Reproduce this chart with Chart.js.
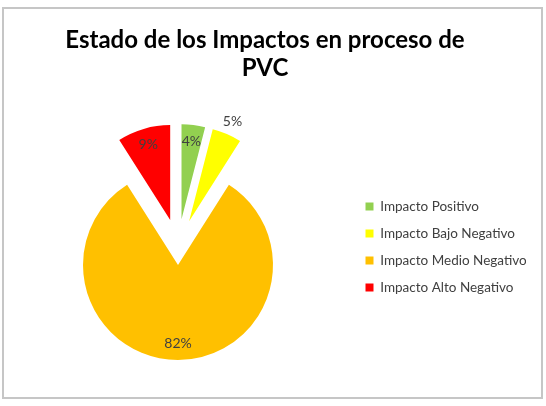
<!DOCTYPE html>
<html>
<head>
<meta charset="utf-8">
<script src="https://cdn.jsdelivr.net/npm/chart.js@4.4.0/dist/chart.umd.min.js"></script>
<style>
  body { margin: 0; background: #fff; }
  #wrap { position: relative; width: 546px; height: 406px; }
  #frame { position: absolute; left: 2px; top: 7px; width: 537px; height: 388px; border: 2px solid #c6c6c6; pointer-events: none; }
</style>
</head>
<body>
<div id="wrap">
  <canvas id="piechart" width="546" height="406"></canvas>
  <div id="frame"></div>
</div>
<script>
var impactLabels = ["Impacto Positivo", "Impacto Bajo Negativo", "Impacto Medio Negativo", "Impacto Alto Negativo"];
var percentages = [4, 5, 82, 9];
var sliceColors = ["#92D050", "#FFFF00", "#FFC000", "#FF0000"];
// how far each slice is pulled out (px) and where its % label sits (fraction of radius)
var explodeBy = [28, 28, 18, 28];
var labelRadius = [0.83, 1.15, 0.83, 0.83];

// pull slices out along their middle angle, like an exploded excel pie
const explodePlugin = {
  id: "explode",
  afterDatasetUpdate(chart, args) {
    args.meta.data.forEach((arc, i) => {
      const mid = (arc.startAngle + arc.endAngle) / 2;
      arc.x += Math.cos(mid) * explodeBy[i];
      arc.y += Math.sin(mid) * explodeBy[i];
    });
  },
};

const pctLabels = {
  id: "pctLabels",
  afterDatasetsDraw(chart) {
    const ctx = chart.ctx;
    const meta = chart.getDatasetMeta(0);
    ctx.save();
    ctx.font = "14px Lato";
    ctx.fillStyle = "#404040";
    ctx.textAlign = "center";
    ctx.textBaseline = "middle";
    meta.data.forEach((arc, i) => {
      const mid = (arc.startAngle + arc.endAngle) / 2;
      const r = arc.outerRadius * labelRadius[i];
      ctx.fillText(percentages[i] + "%", arc.x + Math.cos(mid) * r, arc.y + Math.sin(mid) * r);
    });
    ctx.restore();
  },
};

let ctx = document.getElementById("piechart").getContext("2d");

let chart = new Chart(ctx, {
  type: "pie",
  data: {
    labels: impactLabels,
    datasets: [
      {
        data: percentages,
        backgroundColor: sliceColors,
        borderWidth: 0,
        radius: 95,
      },
    ],
  },
  options: {
    responsive: false,
    animation: false,
    layout: {
      padding: { left: 4, right: 20, top: 16, bottom: 0 },
    },
    plugins: {
      title: {
        display: true,
        text: ["Estado de los Impactos en proceso de", "PVC"],
        color: "#000",
        font: { family: "Lato", size: 24, weight: "bold", lineHeight: 1.1667 },
        padding: { top: 10, bottom: 6 },
      },
      legend: {
        position: "right",
        fullSize: false,
        maxWidth: 174,
        labels: {
          boxWidth: 8,
          boxHeight: 8,
          padding: 13.5,
          color: "#404040",
          font: { family: "Lato", size: 13.5 },
        },
      },
      tooltip: { enabled: false },
    },
  },
  plugins: [explodePlugin, pctLabels],
});
</script>
</body>
</html>
